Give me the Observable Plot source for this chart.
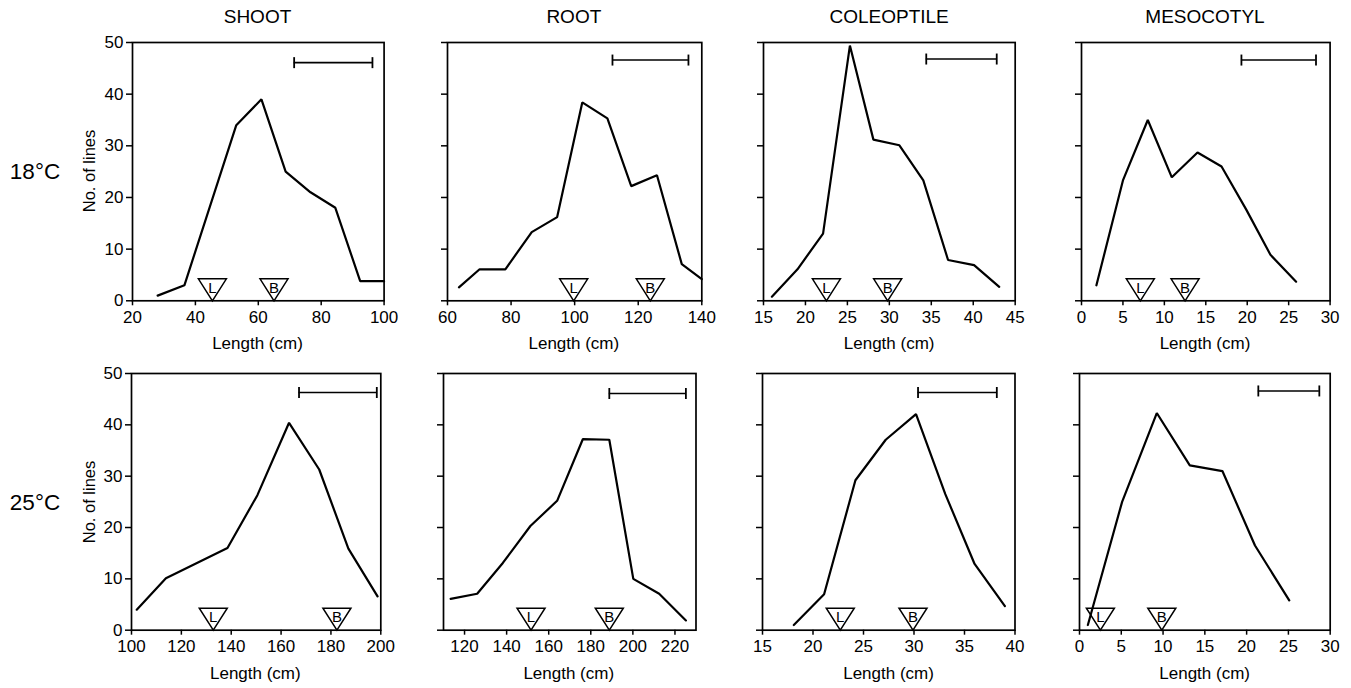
<!DOCTYPE html>
<html>
<head>
<meta charset="utf-8">
<script src="https://cdn.jsdelivr.net/npm/d3@7"></script>
<script src="https://cdn.jsdelivr.net/npm/@observablehq/plot@0.6"></script>
<style>
  body { margin: 0; background: #fff; }
  #fig { position: relative; width: 1351px; height: 688px; overflow: hidden;
         font-family: "Liberation Sans", Arial, Helvetica, sans-serif; color: #000; background: #fff; }
  .lbl { position: absolute; white-space: nowrap; line-height: 1; transform: translate(-50%, -50%); }
  .panel { position: absolute; }
  .panel svg { max-width: none; display: block; }
</style>
</head>
<body>
<div id="fig"></div>
<script>
// ---------------- data ----------------
const organs = ["SHOOT", "ROOT", "COLEOPTILE", "MESOCOTYL"];
const temps = ["18°C", "25°C"];
const yLabel = "No. of lines";
const xLabel = "Length (cm)";
const yTicks = [0, 10, 20, 30, 40, 50];

// 18 °C
const shoot18Len = [28, 36.5, 53, 61, 68.7, 76.6, 84.5, 92.4, 100];
const shoot18Num = [1, 3, 34, 39, 25, 21, 18, 3.8, 3.8];
const root18Len = [63.6, 70.1, 78.2, 86.5, 94.5, 102.4, 110.3, 117.8, 125.9, 133.7, 140];
const root18Num = [2.6, 6.1, 6.1, 13.3, 16.2, 38.4, 35.3, 22.2, 24.3, 7.1, 4.2];
const coleo18Len = [16, 19.05, 22.1, 25.3, 28.1, 31.2, 34.05, 37.0, 40.1, 43.1];
const coleo18Num = [0.8, 6.1, 13, 49.4, 31.2, 30.1, 23.3, 7.9, 6.9, 2.7];
const meso18Len = [1.8, 5.0, 8.0, 10.9, 14.0, 16.9, 19.9, 22.8, 25.9];
const meso18Num = [3.0, 23.3, 35.0, 23.9, 28.7, 26.0, 17.6, 8.9, 3.7];

// 25 °C
const shoot25Len = [102.1, 113.8, 138.5, 150.5, 163.2, 175.3, 187.0, 198.7];
const shoot25Num = [4.0, 10.1, 16.0, 26.3, 40.4, 31.3, 15.9, 6.6];
const root25Len = [113.4, 126.0, 138.2, 151.3, 164.0, 176.2, 188.8, 200.2, 212.5, 225.2];
const root25Num = [6.1, 7.1, 13.1, 20.3, 25.2, 37.2, 37.1, 10.0, 7.1, 1.9];
const coleo25Len = [18.1, 21.1, 24.2, 27.2, 30.2, 33.1, 36.0, 39.0];
const coleo25Num = [1.0, 7.0, 29.2, 37.1, 42.1, 26.5, 12.9, 4.7];
const meso25Len = [1.0, 5.1, 9.25, 13.2, 17.1, 21.0, 25.1];
const meso25Num = [1.0, 25.0, 42.3, 32.1, 31.0, 16.5, 5.8];

// parent markers (L and B) along the length axis
const markL = [[45.4, 99.7, 22.5, 7.1], [132.8, 151.6, 22.7, 2.5]];
const markB = [[65.0, 123.8, 29.8, 12.5], [182.4, 188.8, 29.9, 9.85]];

// LSD bars
const barFrom = [[71.4, 111.9, 34.4, 19.3], [167.2, 188.8, 30.4, 21.4]];
const barTo   = [[96.3, 135.8, 42.8, 28.3], [198.4, 225.2, 38.2, 28.7]];
const barAt   = [[46.1, 46.6, 46.8, 46.6], [46.3, 46.1, 46.3, 46.6]];

// axes
const xDomains = [[[20, 100], [60, 140], [15, 45], [0, 30]], [[100, 200], [110, 230], [15, 40], [0, 30]]];
const xTicks = [
  [[20, 40, 60, 80, 100], [60, 80, 100, 120, 140], [15, 20, 25, 30, 35, 40, 45], [0, 5, 10, 15, 20, 25, 30]],
  [[100, 120, 140, 160, 180, 200], [120, 140, 160, 180, 200, 220], [15, 20, 25, 30, 35, 40], [0, 5, 10, 15, 20, 25, 30]]
];

const series = [
  [[shoot18Len, shoot18Num], [root18Len, root18Num], [coleo18Len, coleo18Num], [meso18Len, meso18Num]],
  [[shoot25Len, shoot25Num], [root25Len, root25Num], [coleo25Len, coleo25Num], [meso25Len, meso25Num]]
];

// ---------------- layout ----------------
const frameLeft  = [[131.7, 446.7, 763.3, 1080.7], [130.7, 442.5, 762.3, 1079.3]];
const frameRight = [[383.3, 701.0, 1015.0, 1329.3], [380.0, 695.0, 1014.8, 1330.0]];
const frameTop = [41.7, 373.3];
const frameBottom = [300, 630];
const ML = 50, MR = 14, MT = 14, MB = 40;
const FONT = '"Liberation Sans", Arial, Helvetica, sans-serif';

// custom symbols
const invTriangle = {
  draw(ctx) { ctx.moveTo(0, 0); ctx.lineTo(-14, -22); ctx.lineTo(14, -22); ctx.closePath(); }
};
const capSymbol = {
  draw(ctx) { ctx.moveTo(0, -5.5); ctx.lineTo(0, 5.5); }
};

const fig = document.getElementById("fig");

function addLabel(text, x, y, size, rotate) {
  const d = document.createElement("div");
  d.className = "lbl";
  d.textContent = text;
  d.style.left = x + "px";
  d.style.top = y + "px";
  d.style.fontSize = size + "px";
  if (rotate) d.style.transform = "translate(-50%, -50%) rotate(-90deg)";
  fig.appendChild(d);
}

for (let r = 0; r < 2; r++) {
  for (let c = 0; c < 4; c++) {
    const fw = frameRight[r][c] - frameLeft[r][c];
    const fh = frameBottom[r] - frameTop[r];
    const [lens, nums] = series[r][c];
    const pts = lens.map((x, i) => ({x, y: nums[i]}));
    const marks = [
      {x: markL[r][c], t: "L"},
      {x: markB[r][c], t: "B"}
    ];
    const bar = [{x1: barFrom[r][c], x2: barTo[r][c], y: barAt[r][c]}];
    const caps = [barFrom[r][c], barTo[r][c]];

    const svg = Plot.plot({
      width: fw + ML + MR,
      height: fh + MT + MB,
      marginLeft: ML, marginRight: MR, marginTop: MT, marginBottom: MB,
      style: {fontFamily: FONT, fontSize: "17px", background: "transparent", color: "#000", overflow: "visible"},
      x: {domain: xDomains[r][c], label: null},
      y: {domain: [0, 50], label: null},
      marks: [
        Plot.axisX({ticks: xTicks[r][c], tickSize: 5, tickPadding: 5, strokeWidth: 1.5, label: null, tickFormat: d => String(d)}),
        Plot.axisY({ticks: yTicks, tickSize: 6, tickPadding: 3, strokeWidth: 1.5, label: null,
                    tickFormat: c === 0 ? (d => String(d)) : (() => "")}),
        Plot.frame({stroke: "#000", strokeWidth: 1.7}),
        Plot.ruleY(bar, {x1: "x1", x2: "x2", y: "y", stroke: "#000", strokeWidth: 1.6}),
        Plot.dot(caps, {x: d => d, y: () => barAt[r][c], symbol: capSymbol, stroke: "#000", strokeWidth: 1.8, fill: "none"}),
        Plot.dot(marks, {x: "x", y: () => 0, symbol: invTriangle, fill: "#fff", stroke: "#000", strokeWidth: 1.5}),
        Plot.text(marks, {x: "x", y: () => 0, text: "t", dy: -13, fontSize: 15, fill: "#000"}),
        Plot.line(pts, {x: "x", y: "y", stroke: "#000", strokeWidth: 2.2, strokeLinejoin: "miter"})
      ]
    });
    svg.style.maxWidth = "none";
    const holder = document.createElement("div");
    holder.className = "panel";
    holder.style.left = (frameLeft[r][c] - ML) + "px";
    holder.style.top = (frameTop[r] - MT) + "px";
    holder.style.width = (fw + ML + MR) + "px";
    holder.appendChild(svg);
    fig.appendChild(holder);

    // x axis title
    addLabel(xLabel, (frameLeft[r][c] + frameRight[r][c]) / 2, frameBottom[r] + 43, 17);
  }
  // y axis title and row label
  addLabel(yLabel, 89, (frameTop[r] + frameBottom[r]) / 2, 16.5, true);
  addLabel(temps[r], 35, (frameTop[r] + frameBottom[r]) / 2 + 1, 22.5);
}
for (let c = 0; c < 4; c++) {
  addLabel(organs[c], (frameLeft[0][c] + frameRight[0][c]) / 2, 16, 19);
}
</script>
</body>
</html>
